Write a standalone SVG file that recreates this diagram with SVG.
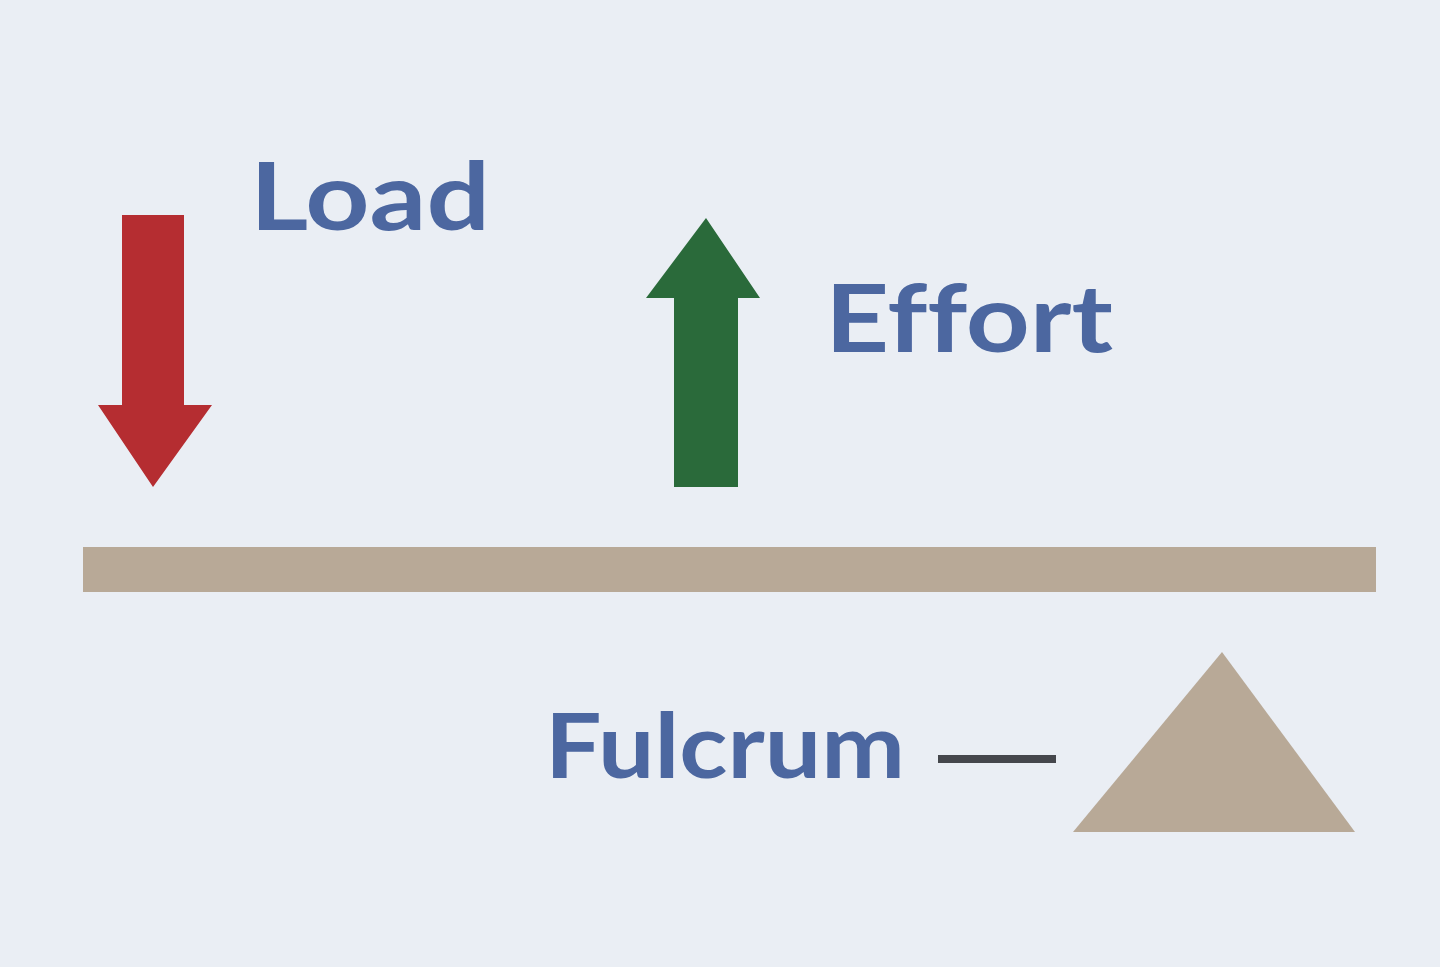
<svg xmlns="http://www.w3.org/2000/svg" width="1440" height="967" viewBox="0 0 1440 967">
<style>
.lbl{font-family:Lato,"Open Sans","Liberation Sans",sans-serif;font-weight:700;fill:#4c67a0;font-variant-ligatures:none;font-feature-settings:"liga" 0}
.wood{fill:#b8a997}
</style>
<rect width="1440" height="967" fill="#eaeef4"/>
<g id="beam"><rect class="wood" x="83" y="547" width="1293" height="45"/></g>
<g id="fulcrum"><polygon class="wood" points="1222,652 1355,832 1073,832"/></g>
<g id="load">
<polygon fill="#b52d31" points="122,215 184,215 184,405 212,405 153,487 98,405 122,405"/>
<text class="lbl" x="250" y="230" font-size="94" textLength="240" lengthAdjust="spacingAndGlyphs">Load</text>
</g>
<g id="effort">
<polygon fill="#2a6a3a" points="706,218 760,298 738,298 738,487 674,487 674,298 646,298"/>
<text class="lbl" x="825" y="352" font-size="94" textLength="288" lengthAdjust="spacingAndGlyphs">Effort</text>
</g>
<g id="connectors">
<line x1="938" y1="759" x2="1056" y2="759" stroke="#45474c" stroke-width="8"/>
</g>
<g id="fulcrum-label">
<text class="lbl" x="545" y="778" font-size="90" textLength="360" lengthAdjust="spacingAndGlyphs">Fulcrum</text>
</g>
</svg>
